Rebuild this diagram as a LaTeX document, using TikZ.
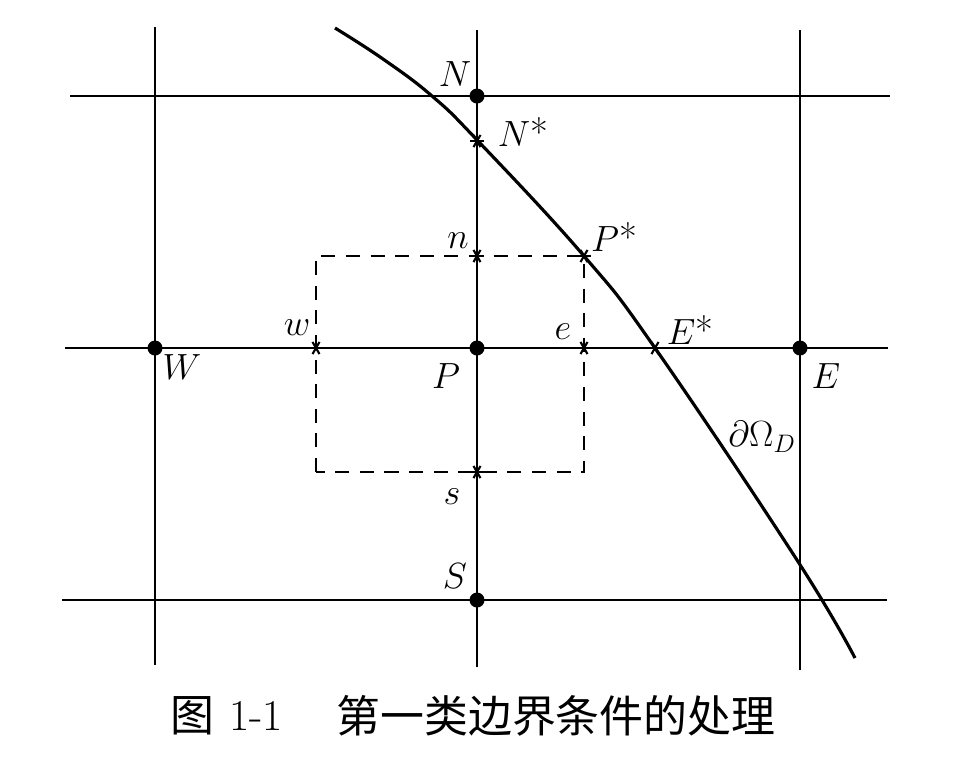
\documentclass[tikz,border=0pt]{standalone}
\usepackage{fontspec}
\usetikzlibrary{calc}
\newfontfamily\cjk{Noto Sans CJK SC}
\begin{document}
\begin{tikzpicture}[x=0.02cm,y=-0.02cm,
  grid/.style={line width=1.1pt},
  bnd/.style={line width=1.8pt},
  box/.style={line width=1pt,dash pattern=on 8pt off 6pt},
  dot/.style={circle,fill=black,inner sep=0pt,minimum size=0.3cm},
  star/.style={inner sep=0pt,minimum size=0pt},
  lbl/.style={inner sep=0pt,font=\fontsize{22}{24}\selectfont},
  capt/.style={inner sep=0pt,anchor=west,font=\fontsize{25}{28}\selectfont}]
\useasboundingbox (0,0) rectangle (974,769);
% grid end points
\coordinate (Wt) at (155,27); \coordinate (Wb) at (155,665);
\coordinate (Pt) at (477,30); \coordinate (Pb) at (477,667);
\coordinate (Et) at (800,30); \coordinate (Eb) at (800,670);
\coordinate (Nl) at (70,96);  \coordinate (Nr) at (890,96);
\coordinate (Ml) at (65,348); \coordinate (Mr) at (888,348);
\coordinate (Sl) at (62,600); \coordinate (Sr) at (887,600);
\draw[grid] (Wt) -- (Wb);
\draw[grid] (Pt) -- (Pb);
\draw[grid] (Et) -- (Eb);
\draw[grid] (Nl) -- (Nr);
\draw[grid] (Ml) -- (Mr);
\draw[grid] (Sl) -- (Sr);
% dashed control volume
\coordinate (bl) at (316,472); \coordinate (tr) at (584,256);
\draw[box] (bl) rectangle (tr);
% grid nodes
\node[dot] (N) at (477,96) {};
\node[dot] (W) at (155,348) {};
\node[dot] (P) at (477,348) {};
\node[dot] (E) at (800,348) {};
\node[dot] (S) at (477,600) {};
% boundary
\coordinate (c0) at (335,28);
\coordinate (c1) at (383,59);
\coordinate (c2) at (432,96);
\coordinate (Ns) at (478,141);
\coordinate (Ps) at (584,256);
\coordinate (Es) at (655,348);
\coordinate (c5) at (797,560);
\coordinate (c6) at (855,658);
\draw[bnd] plot[smooth,tension=0.7] coordinates {(c0) (c1) (c2) (Ns) (Ps) (Es) (c5) (c6)};
% star marks
\foreach \p/\q in {n/{477,256},w/{316,348},e/{584,348},s/{477,472},NN/{477,141},PP/{584,256},EE/{655,348}}{
  \node[star] (st\p) at (\q) {};
  \foreach \a in {0,60,120}{
    \draw[line width=1.2pt] ($(st\p)+(\a:7)$) -- ($(st\p)+(\a+180:7)$);
  }
}
% labels
\node[lbl] (lN) at (455,74) {$N$};
\node[lbl] (lNs) at (523,132) {$N$*};
\node[lbl] (ln) at (458,241) {$n$};
\node[lbl] (lPs) at (614,237) {$P$*};
\node[lbl] (lw) at (297,328) {$w$};
\node[lbl] (le) at (563,332) {$e$};
\node[lbl] (lP) at (446,376) {$P$};
\node[lbl] (ls) at (452,497) {$s$};
\node[lbl] (lEs) at (690,330) {$E$*};
\node[lbl] (lE) at (826,376) {$E$};
\node[lbl] (lW) at (182,367) {$W$};
\node[lbl] (lS) at (455,576) {$S$};
\node[lbl] (lD) at (762,437) {$\partial\Omega_D$};
% caption
\node[capt] (cap1) at (170,716) {\cjk 图};
\node[capt] (cap2) at (229,716) {1-1};
\node[capt] (cap3) at (336,716) {\cjk 第一类边界条件的处理};
\end{tikzpicture}
\end{document}
